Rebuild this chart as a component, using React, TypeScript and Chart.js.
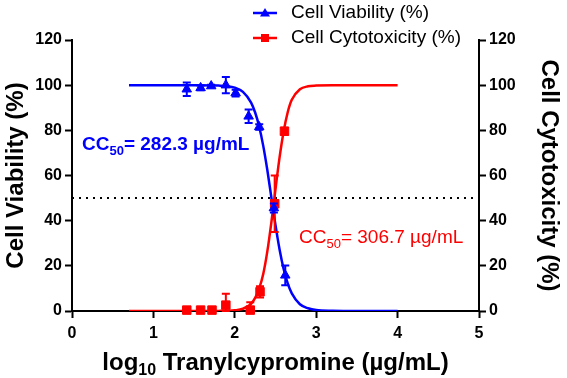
import React, { useEffect, useRef } from "react";
import { Chart, registerables } from "chart.js";

Chart.register(...registerables);

// Measured points (log10 dose, % response, ± error)
const viabilityDose = [1.41, 1.58, 1.71, 1.89, 2.01, 2.17, 2.3, 2.48, 2.62];
const viability = [98.2, 98.8, 99.6, 100.0, 96.5, 86.2, 81.5, 45.6, 15.8];
const viabilityErr = [3.0, 1.0, 0.6, 3.6, 1.5, 3.0, 1.2, 2.0, 4.4];

const cytotoxicityDose = [1.41, 1.58, 1.72, 1.89, 2.19, 2.31, 2.49, 2.61];
const cytotoxicity = [0.4, 0.4, 0.4, 2.6, 0.4, 8.5, 47.5, 79.6];
const cytotoxicityErr = [0, 0, 0, 5.0, 3.5, 2.5, 12.5, 1.5];

// Fitted dose-response curves sampled along log10 dose
const fitDose = [0.7, 1.5, 1.8, 1.9, 2.0, 2.1, 2.2, 2.25, 2.3, 2.35, 2.4, 2.45, 2.5, 2.55, 2.6, 2.65, 2.7, 2.8, 2.9, 3.0, 3.2, 3.5, 4.0];
const viabilityFit = [100, 100, 99.8, 99.6, 98.9, 97.0, 92.3, 87.9, 81.6, 73.0, 62.3, 50.1, 38.0, 27.2, 18.6, 12.2, 7.8, 3.0, 1.2, 0.4, 0.1, 0, 0];
const cytotoxicityFit = [0, 0, 0.05, 0.1, 0.3, 1.0, 3.2, 5.8, 10.0, 16.5, 26.5, 39.5, 54.0, 68.0, 79.5, 88.0, 93.5, 98.2, 99.5, 99.8, 100, 100, 100];

const halfLine = 50;
const xTicks = [0, 1, 2, 3, 4, 5];
const yTicks = [0, 20, 40, 60, 80, 100, 120];

const viabilityLabel = "Cell Viability (%)";
const cytotoxicityLabel = "Cell Cytotoxicity (%)";
const viabilityCC50 = "282.3";
const cytotoxicityCC50 = "306.7";

const BLUE = "#0000ff";
const RED = "#ff0000";
const FONT = "'Liberation Sans', Arial, Helvetica, sans-serif";

type Part = { t: string; sub?: boolean };

function drawParts(
  ctx: CanvasRenderingContext2D,
  parts: Part[],
  x: number,
  y: number,
  size: number,
  weight: string,
  color: string,
  align: "left" | "center"
) {
  const subSize = Math.round(size * 0.68);
  const fontMain = `${weight} ${size}px ${FONT}`;
  const fontSub = `${weight} ${subSize}px ${FONT}`;
  let total = 0;
  const widths = parts.map((p) => {
    ctx.font = p.sub ? fontSub : fontMain;
    const w = ctx.measureText(p.t).width;
    total += w;
    return w;
  });
  let cx = align === "center" ? x - total / 2 : x;
  ctx.fillStyle = color;
  ctx.textAlign = "left";
  ctx.textBaseline = "middle";
  parts.forEach((p, i) => {
    ctx.font = p.sub ? fontSub : fontMain;
    ctx.fillText(p.t, cx, p.sub ? y + size * 0.32 : y);
    cx += widths[i];
  });
}

const errorBars = {
  id: "errorBars",
  afterDatasetDraw(chart: any, args: any) {
    const ds = chart.data.datasets[args.index];
    const errs: number[] | undefined = ds.errors;
    if (!errs) return;
    const meta = chart.getDatasetMeta(args.index);
    const xs = chart.scales[meta.xAxisID];
    const ys = chart.scales[meta.yAxisID];
    const ctx: CanvasRenderingContext2D = chart.ctx;
    ctx.save();
    ctx.strokeStyle = ds.borderColor;
    ctx.lineWidth = 2;
    ds.data.forEach((pt: { x: number; y: number }, i: number) => {
      const e = errs[i];
      if (!e) return;
      const px = xs.getPixelForValue(pt.x);
      const top = ys.getPixelForValue(pt.y + e);
      const bot = ys.getPixelForValue(Math.max(0, pt.y - e));
      ctx.beginPath();
      ctx.moveTo(px, top);
      ctx.lineTo(px, bot);
      ctx.moveTo(px - 4, top);
      ctx.lineTo(px + 4, top);
      ctx.moveTo(px - 4, bot);
      ctx.lineTo(px + 4, bot);
      ctx.stroke();
    });
    ctx.restore();
  },
};

const labels = {
  id: "labels",
  afterDraw(chart: any) {
    const ctx: CanvasRenderingContext2D = chart.ctx;
    const area = chart.chartArea;
    const midY = (area.top + area.bottom) / 2;
    ctx.save();

    // Axis titles
    ctx.save();
    ctx.translate(16, midY);
    ctx.rotate(-Math.PI / 2);
    drawParts(ctx, [{ t: viabilityLabel }], 0, 0, 24, "bold", "#000", "center");
    ctx.restore();

    ctx.save();
    ctx.translate(549, midY);
    ctx.rotate(Math.PI / 2);
    drawParts(ctx, [{ t: cytotoxicityLabel }], 0, 0, 24, "bold", "#000", "center");
    ctx.restore();

    drawParts(
      ctx,
      [{ t: "log" }, { t: "10", sub: true }, { t: " Tranylcypromine (µg/mL)" }],
      (area.left + area.right) / 2,
      363,
      24,
      "bold",
      "#000",
      "center"
    );

    // CC50 annotations
    drawParts(
      ctx,
      [{ t: "CC" }, { t: "50", sub: true }, { t: `= ${viabilityCC50} µg/mL` }],
      82,
      145,
      19,
      "bold",
      BLUE,
      "left"
    );
    drawParts(
      ctx,
      [{ t: "CC" }, { t: "50", sub: true }, { t: `= ${cytotoxicityCC50} µg/mL` }],
      299,
      238,
      19,
      "normal",
      RED,
      "left"
    );

    // Legend: line with marker, then label
    const rows = [
      { label: viabilityLabel, color: BLUE, shape: "triangle", y: 13 },
      { label: cytotoxicityLabel, color: RED, shape: "square", y: 38 },
    ];
    rows.forEach((r) => {
      ctx.strokeStyle = r.color;
      ctx.fillStyle = r.color;
      ctx.lineWidth = 2.5;
      ctx.beginPath();
      ctx.moveTo(253, r.y);
      ctx.lineTo(277, r.y);
      ctx.stroke();
      ctx.beginPath();
      if (r.shape === "triangle") {
        ctx.moveTo(265, r.y - 5);
        ctx.lineTo(270, r.y + 3.5);
        ctx.lineTo(260, r.y + 3.5);
        ctx.closePath();
      } else {
        ctx.rect(261, r.y - 4, 8, 8);
      }
      ctx.fill();
      drawParts(ctx, [{ t: r.label }], 291, r.y, 19, "normal", "#000", "left");
    });

    ctx.restore();
  },
};

export default function App() {
  const ref = useRef<HTMLCanvasElement | null>(null);

  useEffect(() => {
    if (!ref.current) return;
    const tickFont = { family: FONT, size: 16, weight: "bold" as const };
    const axisCommon = {
      type: "linear" as const,
      min: 0,
      max: 120,
      grid: {
        drawOnChartArea: false,
        drawTicks: true,
        tickLength: 7,
        tickWidth: 2,
        tickColor: "#000",
      },
      border: { color: "#000", width: 2 },
    };

    const chart = new Chart(ref.current, {
      type: "scatter",
      data: {
        datasets: [
          {
            label: viabilityLabel,
            data: viabilityDose.map((x, i) => ({ x, y: viability[i] })),
            errors: viabilityErr,
            yAxisID: "y",
            showLine: false,
            clip: false,
            pointStyle: "triangle",
            pointRadius: 5.5,
            backgroundColor: BLUE,
            borderColor: BLUE,
            pointBorderWidth: 1,
            order: 0,
          } as any,
          {
            label: cytotoxicityLabel,
            data: cytotoxicityDose.map((x, i) => ({ x, y: cytotoxicity[i] })),
            errors: cytotoxicityErr,
            yAxisID: "y2",
            showLine: false,
            clip: false,
            pointStyle: "rect",
            pointRadius: 6,
            backgroundColor: RED,
            borderColor: RED,
            pointBorderWidth: 1,
            order: 1,
          } as any,
          {
            label: "viability fit",
            data: fitDose.map((x, i) => ({ x, y: viabilityFit[i] })),
            yAxisID: "y",
            showLine: true,
            cubicInterpolationMode: "monotone",
            borderColor: BLUE,
            borderWidth: 2.5,
            pointRadius: 0,
            order: 2,
          },
          {
            label: "cytotoxicity fit",
            data: fitDose.map((x, i) => ({ x, y: cytotoxicityFit[i] })),
            yAxisID: "y2",
            showLine: true,
            cubicInterpolationMode: "monotone",
            borderColor: RED,
            borderWidth: 2.5,
            pointRadius: 0,
            order: 3,
          },
          {
            label: "50%",
            data: [
              { x: xTicks[0], y: halfLine },
              { x: xTicks[xTicks.length - 1], y: halfLine },
            ],
            yAxisID: "y",
            showLine: true,
            borderColor: "#000",
            borderWidth: 2,
            borderDash: [2, 5],
            pointRadius: 0,
            order: 4,
          },
        ],
      },
      options: {
        responsive: false,
        animation: false,
        events: [],
        layout: { padding: { top: 40, left: 0, right: 0, bottom: 0 } },
        plugins: { legend: { display: false }, tooltip: { enabled: false } },
        scales: {
          x: {
            type: "linear",
            min: xTicks[0],
            max: xTicks[xTicks.length - 1],
            afterBuildTicks: (s: any) => {
              s.ticks = xTicks.map((v) => ({ value: v }));
            },
            afterFit: (s: any) => {
              s.height = 67;
            },
            ticks: { color: "#000", font: tickFont, padding: 6, maxRotation: 0 },
            grid: {
              drawOnChartArea: false,
              drawTicks: true,
              tickLength: 7,
              tickWidth: 2,
              tickColor: "#000",
            },
            border: { color: "#000", width: 2 },
          },
          y: {
            ...axisCommon,
            position: "left",
            afterBuildTicks: (s: any) => {
              s.ticks = yTicks.map((v) => ({ value: v }));
            },
            afterFit: (s: any) => {
              s.width = 72;
            },
            ticks: { color: "#000", font: tickFont, padding: 3 },
          },
          y2: {
            ...axisCommon,
            position: "right",
            afterBuildTicks: (s: any) => {
              s.ticks = yTicks.map((v) => ({ value: v }));
            },
            afterFit: (s: any) => {
              s.width = 88;
            },
            ticks: { color: "#000", font: tickFont, padding: 3 },
          },
        },
      } as any,
      plugins: [errorBars, labels],
    });

    return () => chart.destroy();
  }, []);

  return (
    <div style={{ position: "fixed", left: 0, top: 0, width: 567, height: 378, background: "#fff" }}>
      <canvas ref={ref} width={567} height={378} style={{ display: "block" }} />
    </div>
  );
}
